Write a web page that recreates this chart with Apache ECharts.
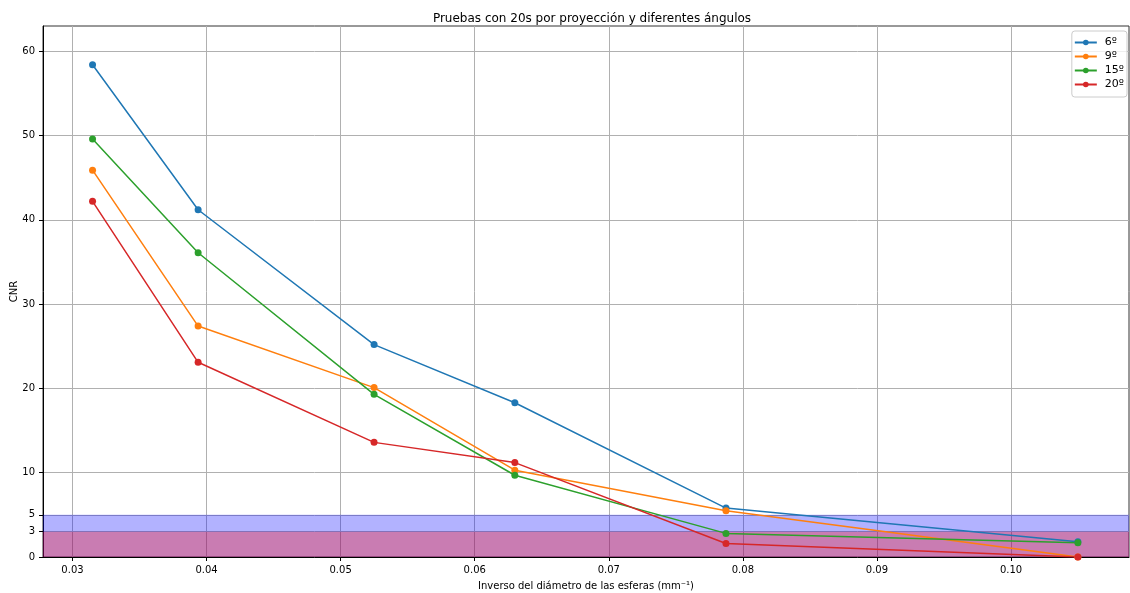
<!DOCTYPE html>
<html>
<head>
<meta charset="utf-8">
<script src="https://cdn.jsdelivr.net/npm/echarts@6/dist/echarts.min.js"></script>
<style>
  html, body { margin: 0; padding: 0; background: #ffffff; }
  #chart { width: 1130px; height: 593px; }
</style>
</head>
<body>
<div id="chart"></div>
<script>
// Inverse sphere diameters (mm^-1)
const xValues = [0.031496, 0.03937, 0.052493, 0.062992, 0.07874, 0.104987];

// CNR per angle
const cnr6 = [58.4, 41.2, 25.2, 18.3, 5.8, 1.8];
const cnr9 = [45.9, 27.4, 20.1, 10.3, 5.5, 0.0];
const cnr15 = [49.6, 36.1, 19.3, 9.7, 2.8, 1.7];
const cnr20 = [42.2, 23.1, 13.6, 11.2, 1.6, 0.0];

const seriesNames = ['6º', '9º', '15º', '20º'];
const seriesColors = ['#1f77b4', '#ff7f0e', '#2ca02c', '#d62728'];

// Axis ticks
const xTicks = [0.03, 0.04, 0.05, 0.06, 0.07, 0.08, 0.09, 0.10];
const yTicks = [0, 3, 5, 10, 20, 30, 40, 50, 60];

// Threshold bands on CNR
const bandBlue = [0, 5];
const bandRed = [0, 3];

const FONT = 'DejaVu Sans';

function pairs(ys) {
  return xValues.map((x, i) => [x, ys[i]]);
}

const allSeries = [cnr6, cnr9, cnr15, cnr20].map((ys, i) => ({
  name: seriesNames[i],
  type: 'line',
  data: pairs(ys),
  symbol: 'circle',
  symbolSize: 7,
  z: 3,
  itemStyle: { color: seriesColors[i] },
  lineStyle: { width: 1.5, color: seriesColors[i] },
  emphasis: { disabled: true }
}));

// Bands drawn beneath the lines
allSeries.push({
  name: 'bands',
  type: 'line',
  data: [],
  silent: true,
  z: 1,
  markArea: {
    silent: true,
    data: [
      [{ yAxis: bandBlue[0], itemStyle: { color: 'rgba(0,0,255,0.3)' } }, { yAxis: bandBlue[1] }],
      [{ yAxis: bandRed[0], itemStyle: { color: 'rgba(255,0,0,0.3)' } }, { yAxis: bandRed[1] }]
    ]
  }
});

const chart = echarts.init(document.getElementById('chart'), null, { renderer: 'canvas' });
chart.setOption({
  animation: false,
  backgroundColor: '#ffffff',
  textStyle: { fontFamily: FONT },
  title: {
    text: 'Pruebas con 20s por proyección y diferentes ángulos',
    left: 587,
    textAlign: 'center',
    top: 8,
    textStyle: { fontFamily: FONT, fontSize: 12, fontWeight: 'normal', color: '#000' }
  },
  legend: {
    data: seriesNames,
    orient: 'vertical',
    right: 3,
    top: 31,
    itemWidth: 22,
    itemHeight: 7,
    itemGap: 3,
    padding: [6, 3, 7, 2],
    borderColor: '#cccccc',
    borderWidth: 1,
    borderRadius: 3,
    backgroundColor: 'rgba(255,255,255,0.8)',
    textStyle: { fontFamily: FONT, fontSize: 11, color: '#000', padding: [0, 0, 0, 3] }
  },
  grid: {
    left: 43, right: 1, top: 26, bottom: 36,
    outerBoundsMode: 'none',
    show: true,
    borderColor: '#333',
    borderWidth: 1,
    containLabel: false
  },
  xAxis: {
    type: 'value',
    min: 0.0278,
    max: 0.1088,
    name: 'Inverso del diámetro de las esferas (mm⁻¹)',
    nameLocation: 'middle',
    nameGap: 24,
    nameMoveOverlap: false,
    nameTextStyle: { fontFamily: FONT, fontSize: 10, color: '#000' },
    axisLine: { show: true, onZero: false, lineStyle: { color: '#000', width: 1 } },
    axisTick: { show: true, length: 4, customValues: xTicks, lineStyle: { color: '#000' } },
    axisLabel: {
      customValues: xTicks,
      fontFamily: FONT, fontSize: 10, color: '#000', margin: 8,
      formatter: v => v.toFixed(2)
    },
    splitLine: { show: true, lineStyle: { color: '#b0b0b0', width: 1 } }
  },
  yAxis: {
    type: 'value',
    min: 0,
    max: 63,
    name: 'CNR',
    nameLocation: 'middle',
    nameGap: 24,
    nameMoveOverlap: false,
    nameTextStyle: { fontFamily: FONT, fontSize: 10, color: '#000' },
    axisLine: { show: true, lineStyle: { color: '#000', width: 1 } },
    axisTick: { show: true, length: 4, customValues: yTicks, lineStyle: { color: '#000' } },
    axisLabel: { customValues: yTicks, fontFamily: FONT, fontSize: 10, color: '#000', margin: 8 },
    splitLine: { show: true, lineStyle: { color: '#b0b0b0', width: 1 } }
  },
  series: allSeries
});
</script>
</body>
</html>
